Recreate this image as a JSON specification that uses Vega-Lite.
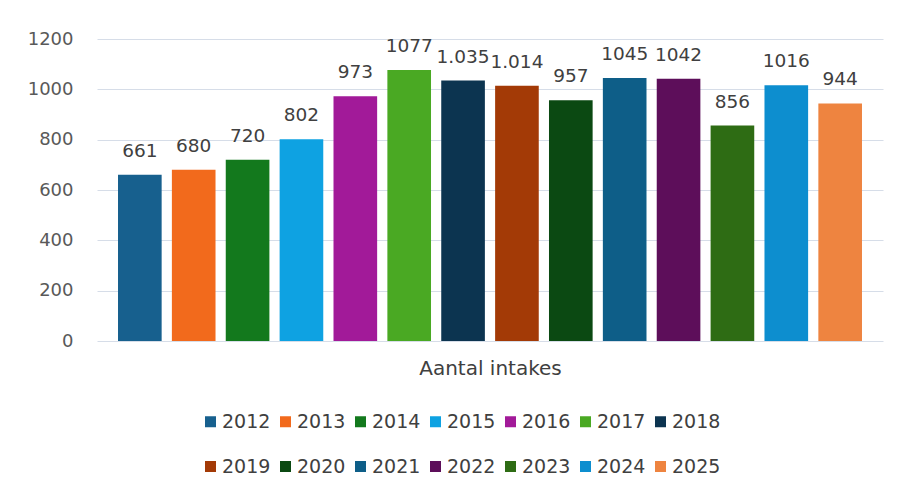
{
  "$schema": "https://vega.github.io/schema/vega-lite/v6.json",
  "width": 786,
  "height": 302,
  "autosize": {"type": "none"},
  "padding": {"left": 97, "top": 39, "right": 19, "bottom": 154},
  "background": "#ffffff",
  "data": {
    "values": [
      {"jaar": "2012", "intakes": 661, "label": "661"},
      {"jaar": "2013", "intakes": 680, "label": "680"},
      {"jaar": "2014", "intakes": 720, "label": "720"},
      {"jaar": "2015", "intakes": 802, "label": "802"},
      {"jaar": "2016", "intakes": 973, "label": "973"},
      {"jaar": "2017", "intakes": 1077, "label": "1077"},
      {"jaar": "2018", "intakes": 1035, "label": "1.035"},
      {"jaar": "2019", "intakes": 1014, "label": "1.014"},
      {"jaar": "2020", "intakes": 957, "label": "957"},
      {"jaar": "2021", "intakes": 1045, "label": "1045"},
      {"jaar": "2022", "intakes": 1042, "label": "1042"},
      {"jaar": "2023", "intakes": 856, "label": "856"},
      {"jaar": "2024", "intakes": 1016, "label": "1016"},
      {"jaar": "2025", "intakes": 944, "label": "944"}
    ]
  },
  "encoding": {
    "x": {
      "field": "jaar",
      "type": "nominal",
      "sort": null,
      "scale": {"paddingInner": 0.19, "paddingOuter": 0.39},
      "axis": {
        "title": "Aantal intakes",
        "labels": false,
        "ticks": false,
        "domain": false,
        "titleFont": "DejaVu Sans",
        "titleFontSize": 20,
        "titleFontWeight": "normal",
        "titleColor": "#404040",
        "titlePadding": 17
      }
    },
    "y": {
      "field": "intakes",
      "type": "quantitative",
      "scale": {"domain": [0, 1200]},
      "axis": {
        "title": null,
        "values": [0, 200, 400, 600, 800, 1000, 1200],
        "format": "d",
        "domain": false,
        "ticks": false,
        "labelPadding": 24,
        "labelFont": "DejaVu Sans",
        "labelFontSize": 18,
        "labelColor": "#595959",
        "gridColor": "#d6dde8",
        "gridWidth": 1
      }
    }
  },
  "layer": [
    {
      "mark": {"type": "bar"},
      "encoding": {
        "color": {
          "field": "jaar",
          "type": "nominal",
          "sort": null,
          "scale": {
            "domain": ["2012","2013","2014","2015","2016","2017","2018","2019","2020","2021","2022","2023","2024","2025"],
            "range": ["#17608e","#f26a1c","#13791d","#0ea2e2","#a21a99","#4aa923","#0c3450","#a33a06","#0b4912","#0e5e88","#5d0e5a","#2e6c14","#0d8ecf","#ee8440"]
          },
          "legend": {
            "title": null,
            "orient": "none",
            "legendX": 104,
            "legendY": 373,
            "direction": "horizontal",
            "columns": 7,
            "columnPadding": 5,
            "rowPadding": 25,
            "symbolType": "square",
            "symbolSize": 121,
            "symbolStrokeWidth": 0,
            "labelFont": "DejaVu Sans",
            "labelFontSize": 19,
            "labelColor": "#404040",
            "labelOffset": 2
          }
        }
      }
    },
    {
      "mark": {
        "type": "text",
        "baseline": "alphabetic",
        "dy": -18,
        "font": "DejaVu Sans",
        "fontSize": 18.5,
        "color": "#404040"
      },
      "encoding": {"text": {"field": "label"}}
    }
  ],
  "config": {"view": {"stroke": null}}
}
